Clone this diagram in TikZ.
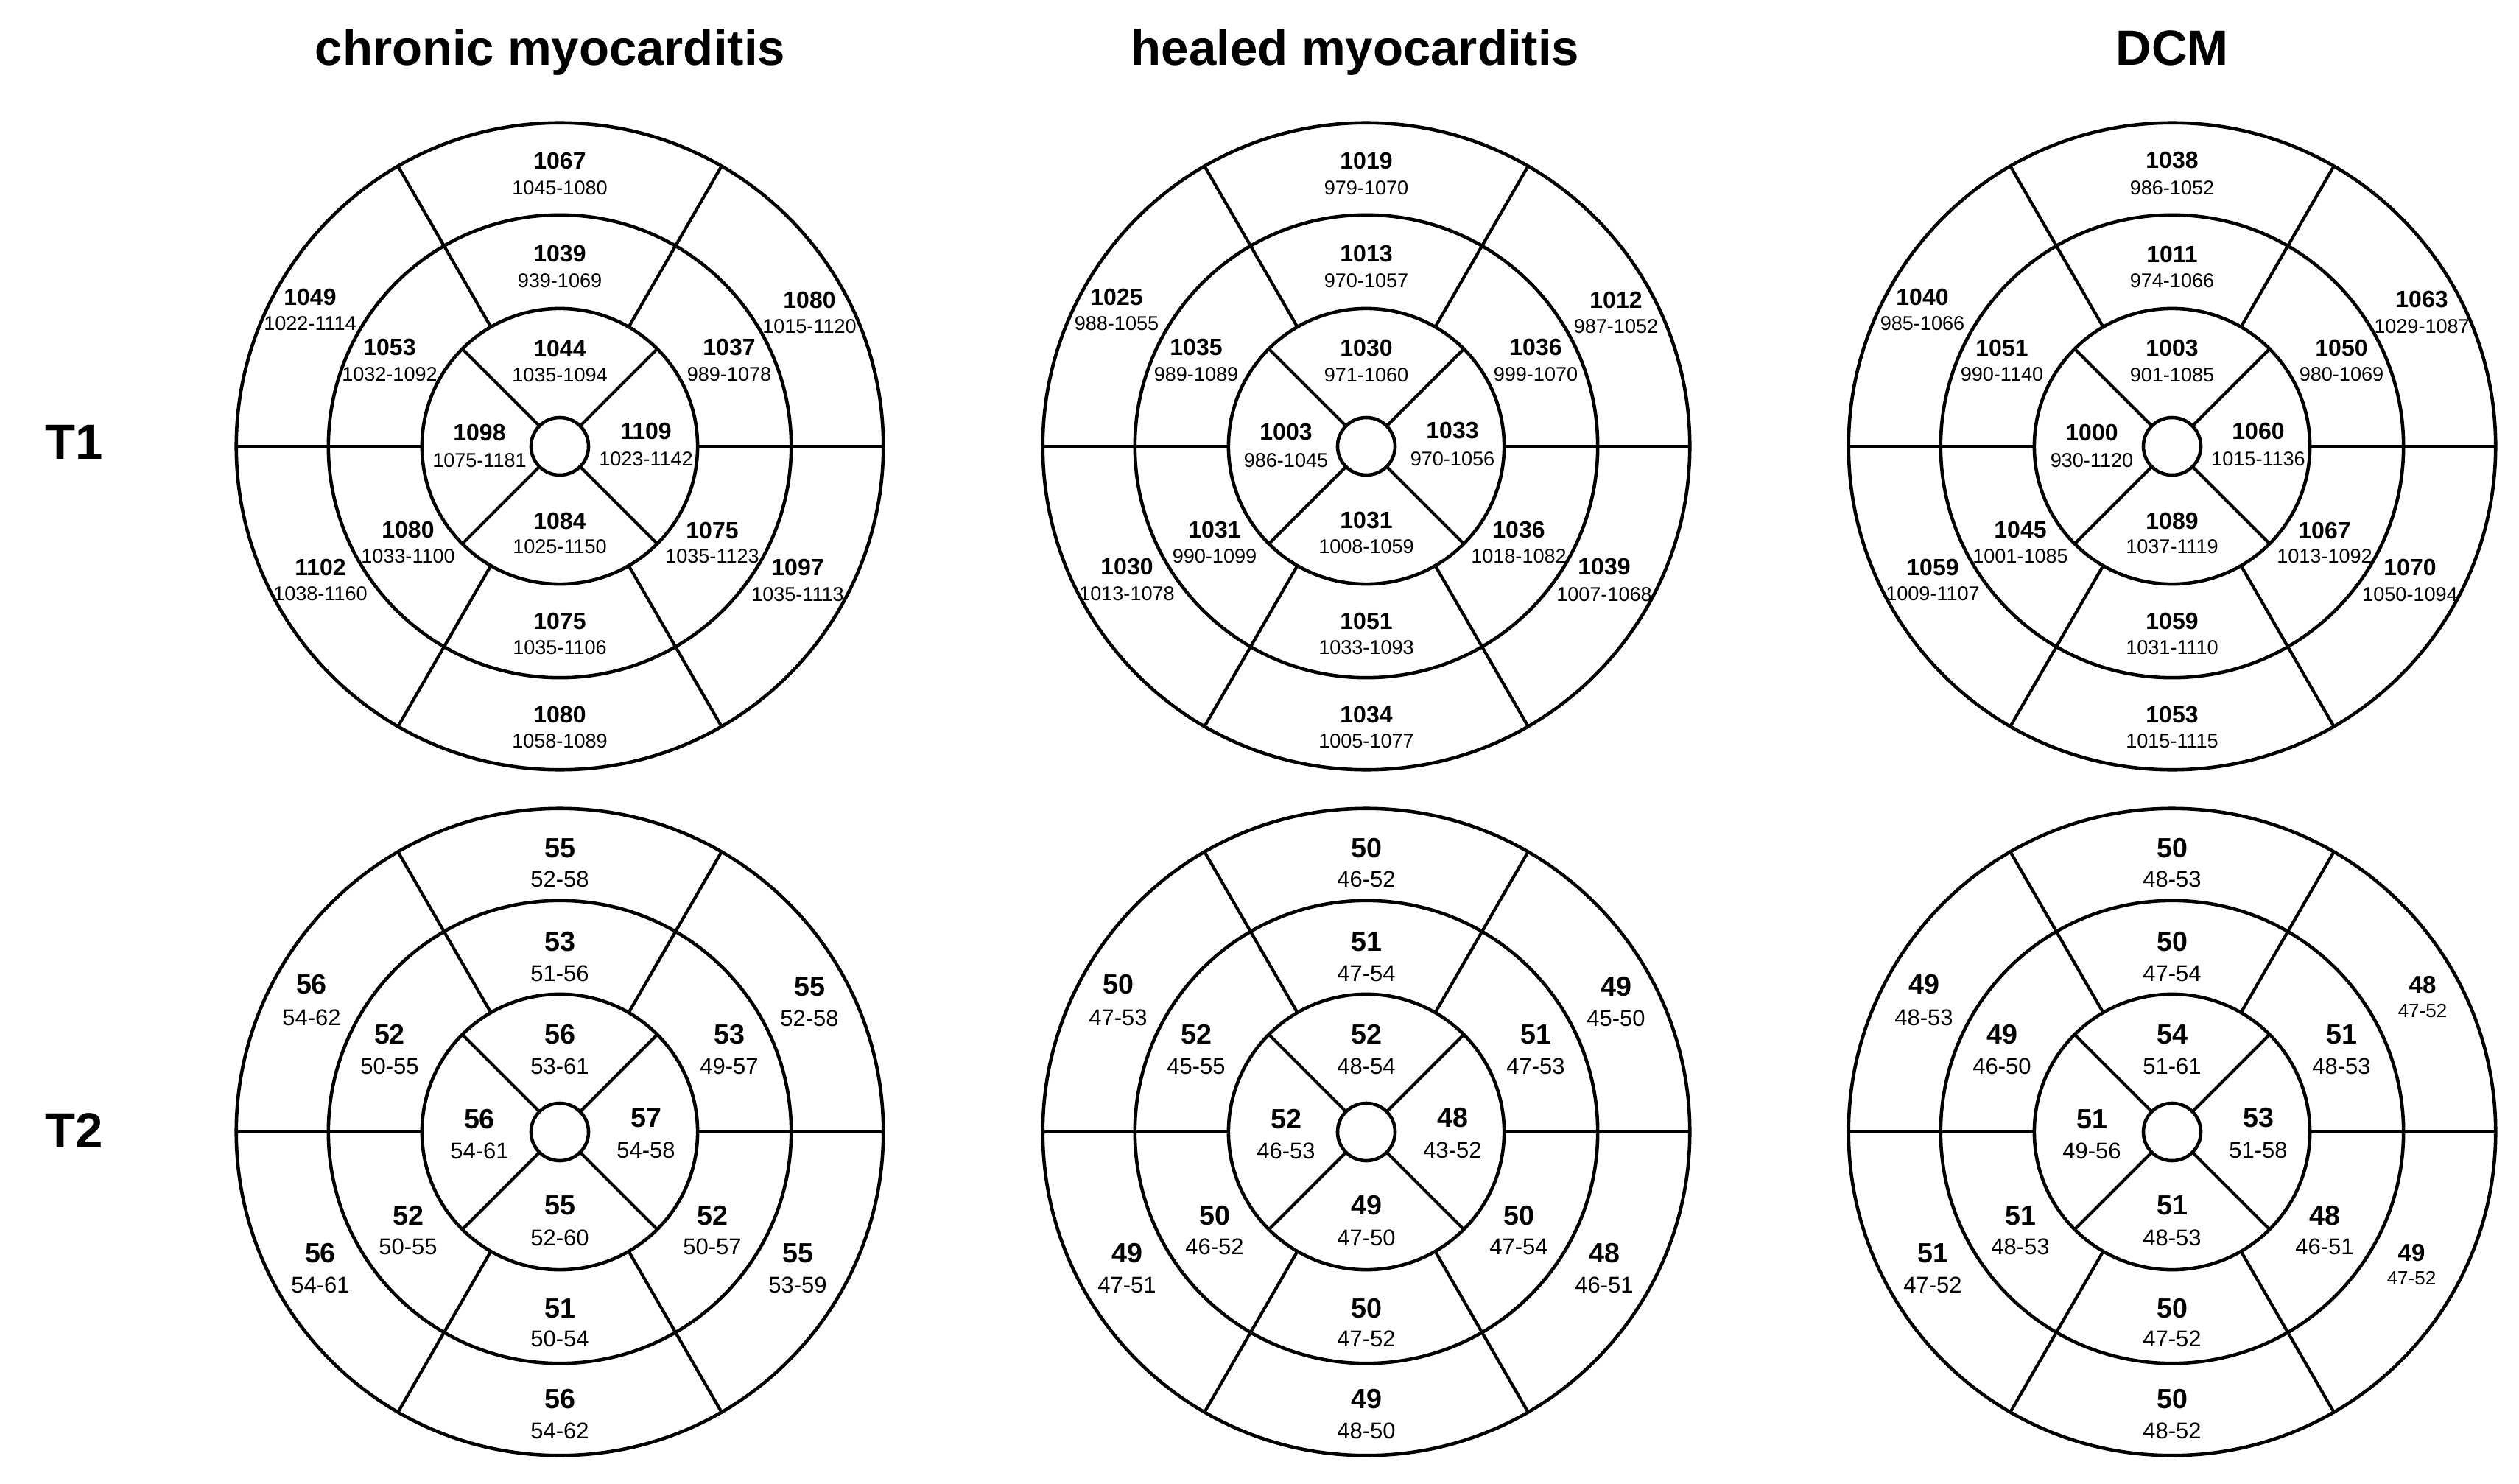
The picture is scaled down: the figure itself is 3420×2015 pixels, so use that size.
\documentclass[tikz,border=0pt]{standalone}
\usepackage{fontspec}
\setmainfont{Liberation Sans}
\tikzset{
  ring/.style={line width=1.3pt},
  spoke/.style={line width=1.2pt},
  title/.style={font=\fontsize{19.1}{22}\selectfont\bfseries, inner sep=0pt, anchor=base},
  valA/.style={font=\fontsize{9.1}{11}\selectfont\bfseries, inner sep=0pt},
  rngA/.style={font=\fontsize{7.7}{9}\selectfont, inner sep=0pt},
  valB/.style={font=\fontsize{10.7}{12}\selectfont\bfseries, inner sep=0pt},
  rngB/.style={font=\fontsize{8.8}{10}\selectfont, inner sep=0pt},
}
\newcommand\bullseyeAt[1]{%
  \begin{scope}[shift={#1}]
    \draw[ring] (0,0) circle[radius=4.39cm];
    \draw[ring] (0,0) circle[radius=3.14cm];
    \draw[ring] (0,0) circle[radius=1.87cm];
    \draw[ring] (0,0) circle[radius=0.39cm];
    \foreach \a in {0,60,120,180,240,300} \draw[spoke] (\a:187) -- (\a:439);
    \foreach \a in {45,135,225,315} \draw[spoke] (\a:39) -- (\a:187);
  \end{scope}}
\begin{document}
\begin{tikzpicture}[x=0.01cm,y=-0.01cm]
\fill[white] (0,0) rectangle (3420,2015);
\useasboundingbox (0,0) rectangle (3420,2015);

% titles
\node[title] (h1) at (747,88) {chronic myocarditis};
\node[title] (h2) at (1840,88) {healed myocarditis};
\node[title] (h3) at (2949,88) {DCM};
\node[title] (r1) at (101,623) {T1};
\node[title] (r2) at (101,1558) {T2};

% bullseyes
\bullseyeAt{(760,606)}
\bullseyeAt{(1855,606)}
\bullseyeAt{(2949,606)}
\bullseyeAt{(760,1537)}
\bullseyeAt{(1855,1537)}
\bullseyeAt{(2949,1537)}

% T1 labels
\foreach \s/\x/\yv/\yr/\va/\ra/\vb/\rb/\vc/\rc in {
 bt/0/-388/-351/1067/1045-1080/1019/979-1070/1038/986-1052,
 bur/339/-199/-163/1080/1015-1120/1012/987-1052/1063/1029-1087,
 blr/323/164/201/1097/1035-1113/1039/1007-1068/1070/1050-1094,
 bb/0/364/400/1080/1058-1089/1034/1005-1077/1053/1015-1115,
 bll/-325/164/200/1102/1038-1160/1030/1013-1078/1059/1009-1107,
 bul/-339/-203/-167/1049/1022-1114/1025/988-1055/1040/985-1066,
 mt/0/-261/-225/1039/939-1069/1013/970-1057/1011/974-1066,
 mur/230/-134/-98/1037/989-1078/1036/999-1070/1050/980-1069,
 mlr/207/114/149/1075/1035-1123/1036/1018-1082/1067/1013-1092,
 mb/0/237/273/1075/1035-1106/1051/1033-1093/1059/1031-1110,
 mll/-206/113/149/1080/1033-1100/1031/990-1099/1045/1001-1085,
 mul/-231/-134/-98/1053/1032-1092/1035/989-1089/1051/990-1140,
 at/0/-133/-97/1044/1035-1094/1030/971-1060/1003/901-1085,
 ar/117/-21/17/1109/1023-1142/1033/970-1056/1060/1015-1136,
 ab/0/101/136/1084/1025-1150/1031/1008-1059/1089/1037-1119,
 al/-109/-19/19/1098/1075-1181/1003/986-1045/1000/930-1120}
{
 \node[valA] (t1c-\s-v) at ({760+(\x)},{606+(\yv)}) {\va};
 \node[rngA] (t1c-\s-r) at ({760+(\x)},{606+(\yr)}) {\ra};
 \node[valA] (t1h-\s-v) at ({1855+(\x)},{606+(\yv)}) {\vb};
 \node[rngA] (t1h-\s-r) at ({1855+(\x)},{606+(\yr)}) {\rb};
 \node[valA] (t1d-\s-v) at ({2949+(\x)},{606+(\yv)}) {\vc};
 \node[rngA] (t1d-\s-r) at ({2949+(\x)},{606+(\yr)}) {\rc};
}

% T2 labels, chronic and healed
\foreach \s/\x/\yv/\yr/\va/\ra/\vb/\rb in {
 bt/0/-385/-343/55/52-58/50/46-52,
 bur/339/-197/-154/55/52-58/49/45-50,
 blr/323/165/208/55/53-59/48/46-51,
 bb/0/363/406/56/54-62/49/48-50,
 bll/-325/165/208/56/54-61/49/47-51,
 bul/-337/-200/-155/56/54-62/50/47-53,
 mt/0/-258/-215/53/51-56/51/47-54,
 mur/230/-132/-89/53/49-57/51/47-53,
 mlr/207/114/156/52/50-57/50/47-54,
 mb/0/240/281/51/50-54/50/47-52,
 mll/-206/114/156/52/50-55/50/46-52,
 mul/-231/-132/-89/52/50-55/52/45-55,
 at/0/-132/-89/56/53-61/52/48-54,
 ar/117/-19/25/57/54-58/48/43-52,
 ab/0/100/144/55/52-60/49/47-50,
 al/-109/-17/26/56/54-61/52/46-53}
{
 \node[valB] (t2c-\s-v) at ({760+(\x)},{1537+(\yv)}) {\va};
 \node[rngB] (t2c-\s-r) at ({760+(\x)},{1537+(\yr)}) {\ra};
 \node[valB] (t2h-\s-v) at ({1855+(\x)},{1537+(\yv)}) {\vb};
 \node[rngB] (t2h-\s-r) at ({1855+(\x)},{1537+(\yr)}) {\rb};
}

% T2 labels, DCM
\foreach \s/\x/\yv/\yr/\v/\r/\fv/\fr in {
 bt/0/-385/-343/50/48-53/10.7/8.8,
 bur/340/-200/-164/48/47-52/9.4/7.4,
 blr/325/164/199/49/47-52/9.4/7.4,
 bb/0/363/406/50/48-52/10.7/8.8,
 bll/-325/165/208/51/47-52/10.7/8.8,
 bul/-337/-200/-155/49/48-53/10.7/8.8,
 mt/0/-258/-215/50/47-54/10.7/8.8,
 mur/230/-132/-89/51/48-53/10.7/8.8,
 mlr/207/114/156/48/46-51/10.7/8.8,
 mb/0/240/281/50/47-52/10.7/8.8,
 mll/-206/114/156/51/48-53/10.7/8.8,
 mul/-231/-132/-89/49/46-50/10.7/8.8,
 at/0/-132/-89/54/51-61/10.7/8.8,
 ar/117/-19/25/53/51-58/10.7/8.8,
 ab/0/100/144/51/48-53/10.7/8.8,
 al/-109/-17/26/51/49-56/10.7/8.8}
{
 \node[inner sep=0pt, font=\fontsize{\fv}{12}\selectfont\bfseries] (t2d-\s-v) at ({2949+(\x)},{1537+(\yv)}) {\v};
 \node[inner sep=0pt, font=\fontsize{\fr}{10}\selectfont] (t2d-\s-r) at ({2949+(\x)},{1537+(\yr)}) {\r};
}
\end{tikzpicture}
\end{document}
